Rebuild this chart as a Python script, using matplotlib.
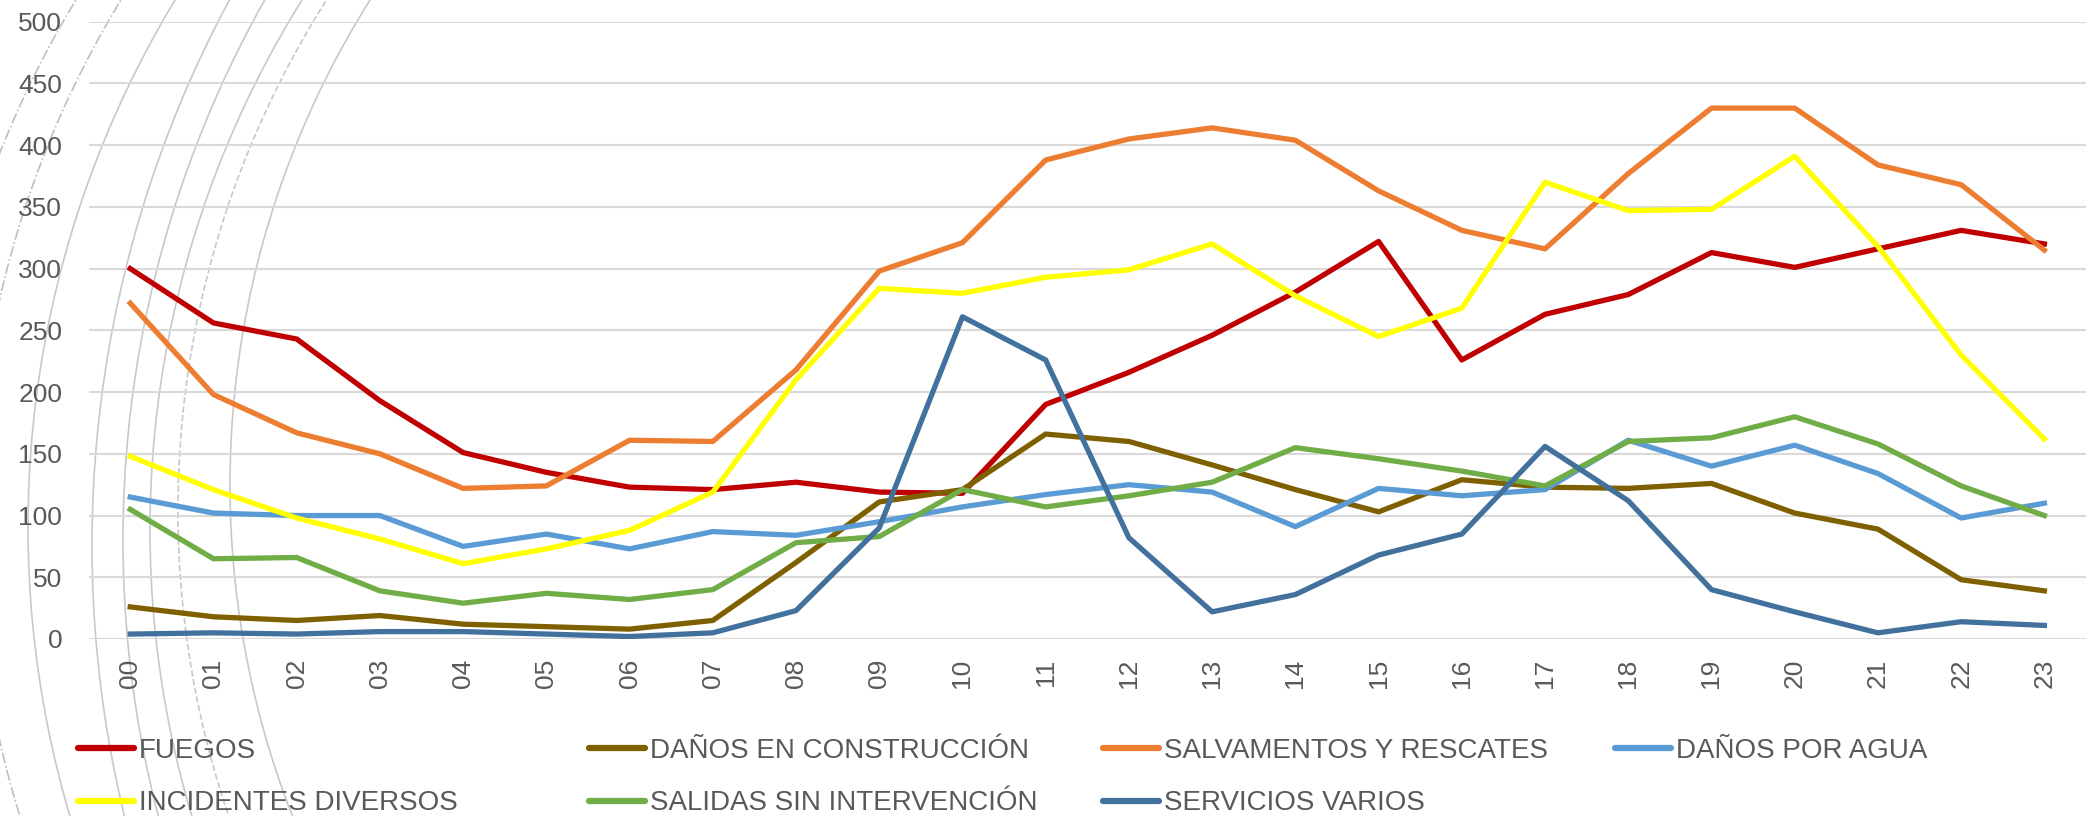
import matplotlib
matplotlib.use("Agg")
import matplotlib.pyplot as plt
from matplotlib.patches import Arc
from matplotlib.lines import Line2D

plt.rcParams["font.family"] = ["Liberation Sans", "DejaVu Sans"]

hours = ["00", "01", "02", "03", "04", "05", "06", "07", "08", "09", "10", "11",
         "12", "13", "14", "15", "16", "17", "18", "19", "20", "21", "22", "23"]

fuegos = [300, 256, 243, 193, 151, 135, 123, 121, 127, 119, 118, 190,
          216, 246, 281, 322, 226, 263, 279, 313, 301, 316, 331, 320]
construccion = [26, 18, 15, 19, 12, 10, 8, 15, 62, 111, 121, 166,
                160, 141, 121, 103, 129, 123, 122, 126, 102, 89, 48, 39]
salvamentos = [272, 198, 167, 150, 122, 124, 161, 160, 218, 298, 321, 388,
               405, 414, 404, 363, 331, 316, 377, 430, 430, 384, 368, 315]
agua = [115, 102, 100, 100, 75, 85, 73, 87, 84, 95, 107, 117,
        125, 119, 91, 122, 116, 121, 161, 140, 157, 134, 98, 110]
incidentes = [148, 121, 98, 81, 61, 73, 88, 119, 210, 284, 280, 293,
              299, 320, 278, 245, 268, 370, 347, 348, 391, 318, 230, 162]
salidas = [105, 65, 66, 39, 29, 37, 32, 40, 78, 83, 121, 107,
           116, 127, 155, 146, 136, 124, 160, 163, 180, 158, 124, 100]
servicios = [4, 5, 4, 6, 6, 4, 2, 5, 23, 90, 261, 226,
             82, 22, 36, 68, 85, 156, 112, 40, 22, 5, 14, 11]

series = [
    ("FUEGOS", fuegos, "#C00000"),
    ("DAÑOS EN CONSTRUCCIÓN", construccion, "#7F6000"),
    ("SALVAMENTOS Y RESCATES", salvamentos, "#ED7D31"),
    ("DAÑOS POR AGUA", agua, "#5B9BD5"),
    ("INCIDENTES DIVERSOS", incidentes, "#FFFF00"),
    ("SALIDAS SIN INTERVENCIÓN", salidas, "#70AD47"),
    ("SERVICIOS VARIOS", servicios, "#41719C"),
]

W, H = 2092, 816
fig = plt.figure(figsize=(W / 100, H / 100), dpi=100)

# decorative background arcs (pixel coords)
bg = fig.add_axes([0, 0, 1, 1], zorder=0)
bg.set_xlim(0, W)
bg.set_ylim(H, 0)
bg.axis("off")
# (leftmost x, radius, center y, style, color)
arcs = [
    (-70, 1000, 520, "-.", "#BFBFBF"),
    (-25, 1000, 520, "-.", "#BFBFBF"),
    (28, 1018, 527, "-", "#C8C8C8"),
    (92, 1150, 545, "-", "#C8C8C8"),
    (123, 1100, 540, "-", "#C8C8C8"),
    (150, 1000, 530, "-", "#C8C8C8"),
    (178, 950, 510, "--", "#C8C8C8"),
    (230, 910, 485, "-", "#C8C8C8"),
]
for left, r, cy, ls, col in arcs:
    bg.add_patch(Arc((left + r, cy), 2 * r, 2 * r, theta1=90, theta2=270,
                     linestyle=ls, color=col, lw=1.2))

ax = fig.add_axes([88.6 / W, 1 - 639 / H, (2086 - 88.6) / W, (639 - 21.7) / H], zorder=1)
ax.patch.set_visible(False)

x = list(range(len(hours)))
handles = []
for name, vals, col in series:
    ax.plot(x, vals, color=col, lw=3.8, solid_joinstyle="round", label=name)
    handles.append(Line2D([], [], color=col, lw=4.5, solid_capstyle="round"))

ax.set_xlim(-0.5, len(hours) - 0.5)
ax.set_ylim(0, 500)
ax.set_yticks(range(0, 501, 50))
ax.set_xticks(x)
ax.set_xticklabels(hours, rotation=90)
ax.tick_params(axis="y", length=0, pad=19, labelsize=19, labelcolor="#595959")
ax.tick_params(axis="x", length=0, pad=14, labelsize=19, labelcolor="#595959")
ax.grid(axis="y", color="#D9D9D9", lw=1.5)
ax.set_axisbelow(True)
for s in ax.spines.values():
    s.set_visible(False)

# legend: 4 columns at fixed positions
col_x = [78, 589, 1103, 1615]
cols = [[0, 4], [1, 5], [2, 6], [3]]
for cx, idx in zip(col_x, cols):
    fig.legend([handles[i] for i in idx], [series[i][0] for i in idx],
               loc="upper left", bbox_to_anchor=(cx / W, 1 - 738 / H),
               frameon=False, fontsize=20, labelcolor="#595959",
               handlelength=2.0, handletextpad=0.2, labelspacing=0.95,
               borderpad=0, borderaxespad=0)

plt.savefig("out.png", dpi=100)
